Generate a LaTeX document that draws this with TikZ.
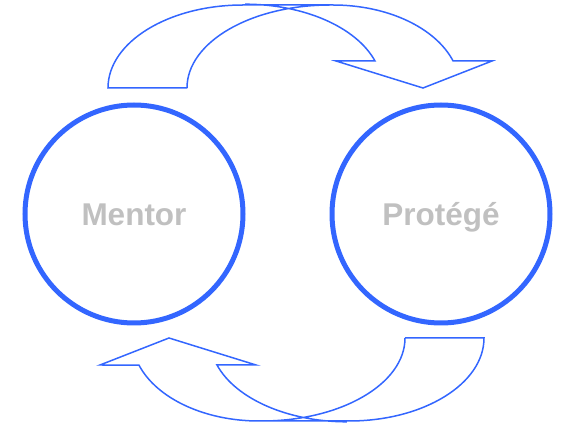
\documentclass[tikz,border=0pt]{standalone}
\usepackage{fontspec}
\setmainfont{Liberation Sans}
\usepackage{xcolor,tikz}
\definecolor{ringblue}{RGB}{51,102,255}
\definecolor{labelgray}{RGB}{192,192,192}

\begin{document}
\begin{tikzpicture}[x=1pt,y=1pt,
  ring/.style={circle,draw=ringblue,line width=5pt,minimum size=218pt,inner sep=0pt,
    text=labelgray,font=\fontsize{31.5}{36}\selectfont\bfseries,text height=22.5pt,text depth=0pt},
  swap/.style={draw=ringblue,line width=1.5pt,line join=miter}]
\useasboundingbox (0,0) rectangle (563,426);
\node[ring] (mentor) at (134,212) {Mentor};
\node[ring] (protege) at (441,212) {Protégé};
% the two exchange arrows, the lower one is the upper one turned round
\foreach \turn in {0,180}
  \draw[swap,rotate around={\turn:(296,213)}]
    (187,338) -- (108,338)
    arc[start angle=180,end angle=90,x radius=135,y radius=83] -- (333,421)
    arc[start angle=90,end angle=19,x radius=127,y radius=83]
    -- (492,365) -- (423,338) -- (336,365) -- (375,365)
    arc[start angle=18.4,end angle=90,x radius=137,y radius=83]
    (187,338) arc[start angle=180,end angle=90,x radius=143,y radius=83];
\end{tikzpicture}
\end{document}
